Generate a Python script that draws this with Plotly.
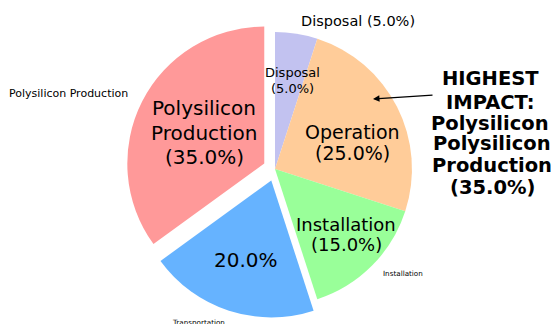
import plotly.graph_objects as go

# Life-cycle stages and their share of the total environmental impact
stages = ["Disposal", "Operation", "Installation", "Transportation", "Polysilicon Production"]
shares = [5.0, 25.0, 15.0, 20.0, 35.0]
colors = ["#c2c2f0", "#ffcc99", "#99ff99", "#66b3ff", "#ff9999"]
explode = [0, 0, 0, 0.088, 0.088]

W, H = 554, 324


def px(x, y):
    """Pixel position -> paper coordinates (margins are zero)."""
    return x / W, 1 - y / H


fig = go.Figure(
    go.Pie(
        labels=stages,
        values=shares,
        marker=dict(colors=colors, line=dict(width=0)),
        pull=explode,
        sort=False,
        direction="clockwise",
        rotation=0,
        textinfo="none",
        hoverinfo="skip",
        showlegend=False,
        domain=dict(x=[126 / W, 424 / W], y=[6 / H, 304 / H]),
    )
)

pct = {s: f"{v:.1f}%" for s, v in zip(stages, shares)}
FONT = "DejaVu Sans"
annotations = []


def add_lines(lines, x, ys, size, bold=False):
    for line, y in zip(lines, ys):
        ax_, ay_ = px(x, y)
        annotations.append(dict(
            text=f"<b>{line}</b>" if bold else line,
            x=ax_, y=ay_, xref="paper", yref="paper",
            xanchor="center", yanchor="middle", showarrow=False,
            font=dict(family=FONT, size=size, color="black"),
        ))


# labels inside the wedges
add_lines(["Polysilicon", "Production", f"({pct['Polysilicon Production']})"], 204, [108, 133, 157], 20)
add_lines(["Disposal", f"({pct['Disposal']})"], 292, [72, 88], 13)
add_lines(["Operation", f"({pct['Operation']})"], 352, [132, 153], 19)
add_lines(["Installation", f"({pct['Installation']})"], 346, [224, 244], 18)
add_lines([pct["Transportation"]], 246, [260], 20)

# labels outside the wedges
add_lines(["Polysilicon Production"], 68.5, [94], 11)
add_lines([f"Disposal ({pct['Disposal']})"], 358, [21], 14.5)
add_lines(["Installation"], 403, [273], 7.2)
add_lines(["Transportation"], 198.5, [322], 7.2)

# callout for the largest contributor
top = max(range(len(shares)), key=lambda i: shares[i])
add_lines(["HIGHEST", "IMPACT:", "Polysilicon"], 490, [79, 102, 124], 19.5, bold=True)
add_lines(["Polysilicon", "Production", f"({shares[top]:.1f}%)"], 492, [143, 165, 187], 19.5, bold=True)

hx, hy = px(373, 99)
annotations.append(dict(
    text="", x=hx, y=hy, xref="paper", yref="paper",
    showarrow=True, ax=61, ay=-4, arrowhead=2, arrowsize=1,
    arrowwidth=1.3, arrowcolor="black",
))

fig.update_layout(
    width=W, height=H,
    margin=dict(l=0, r=0, t=0, b=0),
    paper_bgcolor="white", plot_bgcolor="white",
    annotations=annotations,
)

fig.write_html("out.html")
